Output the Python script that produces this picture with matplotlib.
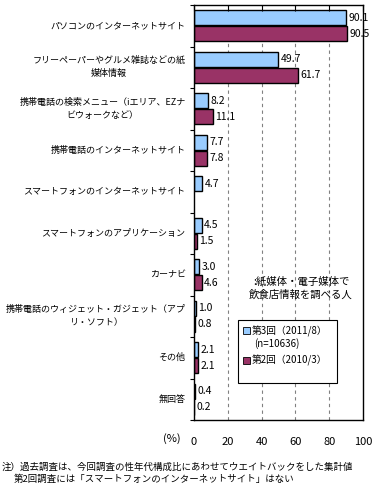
import matplotlib.pyplot as plt
from matplotlib.patches import Rectangle
import numpy as np

plt.rcParams['font.family'] = ['Noto Sans CJK JP', 'DejaVu Sans']

categories = ['パソコンのインターネットサイト',
              'フリーペーパーやグルメ雑誌などの紙\n媒体情報',
              '携帯電話の検索メニュー（iエリア、EZナ\nビウォークなど）',
              '携帯電話のインターネットサイト',
              'スマートフォンのインターネットサイト',
              'スマートフォンのアプリケーション',
              'カーナビ',
              '携帯電話のウィジェット・ガジェット（アプ\nリ・ソフト）',
              'その他',
              '無回答']
third = [90.1, 49.7, 8.2, 7.7, 4.7, 4.5, 3.0, 1.0, 2.1, 0.4]
second = [90.5, 61.7, 11.1, 7.8, None, 1.5, 4.6, 0.8, 2.1, 0.2]
xticks = [0, 20, 40, 60, 80, 100]

blue = '#99CCFF'
maroon = '#993366'

fig = plt.figure(figsize=(3.85, 4.99), dpi=100)
ax = fig.add_axes([194/385, 1 - 420/499, 169/385, 415/499])

def fx(px):
    return px / 385

def fy(py):
    return 1 - py / 499

n = len(categories)
h = 0.36
for i in range(n):
    ax.barh(i - 0.19, third[i], height=h, color=blue, edgecolor='black', linewidth=1)
    ax.text(third[i] + 1.5, i - 0.19, f'{third[i]:.1f}', va='center', ha='left', fontsize=7.5)
    if second[i] is not None:
        ax.barh(i + 0.19, second[i], height=h, color=maroon, edgecolor='black', linewidth=1)
        ax.text(second[i] + 1.5, i + 0.19, f'{second[i]:.1f}', va='center', ha='left', fontsize=7.5)

ax.set_xlim(0, 100)
ax.set_ylim(n - 0.5, -0.5)
for xv in [20, 40, 60, 80]:
    ax.axvline(xv, color='gray', linestyle=(0, (3, 3)), linewidth=0.8, zorder=0)

# category separators as ticks on the left
ax.set_yticks(np.arange(n + 1) - 0.5)
ax.set_yticklabels([])
ax.tick_params(axis='y', direction='out', length=3, width=0.8)
for i, c in enumerate(categories):
    ax.text(-0.05, i, c, transform=ax.get_yaxis_transform(), ha='right', va='center',
            fontsize=6.5, multialignment='center', linespacing=1.6)

ax.set_xticks(xticks)
ax.tick_params(axis='x', top=True, bottom=False, labeltop=False, labelbottom=True,
               direction='in', length=4, width=0.8, pad=12, labelsize=8)
ax.text(-0.08, -0.045, '(%)', transform=ax.transAxes, ha='right', va='center', fontsize=8)

for s in ax.spines.values():
    s.set_linewidth(1)

fig.text(fx(301), fy(288), ':紙媒体・電子媒体で\n飲食店情報を調べる人', ha='center', va='center',
         fontsize=7.5, linespacing=1.3)

# legend box
fig.patches.append(Rectangle((fx(238), fy(383)), 99/385, 63/499, transform=fig.transFigure,
                             facecolor='white', edgecolor='black', linewidth=0.8))
fig.patches.append(Rectangle((fx(243), fy(334)), 7/385, 7/499, transform=fig.transFigure,
                             facecolor=blue, edgecolor='black', linewidth=0.6))
fig.patches.append(Rectangle((fx(243), fy(364)), 7/385, 7/499, transform=fig.transFigure,
                             facecolor=maroon, edgecolor='black', linewidth=0.6))
fig.text(fx(252), fy(331), '第3回（2011/8）', ha='left', va='center', fontsize=7)
fig.text(fx(254), fy(344), '(n=10636)', ha='left', va='center', fontsize=7)
fig.text(fx(252), fy(360), '第2回（2010/3）', ha='left', va='center', fontsize=7)

fig.text(fx(2), fy(467), '注）過去調査は、今回調査の性年代構成比にあわせてウエイトバックをした集計値',
         ha='left', va='center', fontsize=6.8)
fig.text(fx(14), fy(479), '第2回調査には「スマートフォンのインターネットサイト」はない',
         ha='left', va='center', fontsize=6.8)

fig.savefig('out.png', dpi=100)
